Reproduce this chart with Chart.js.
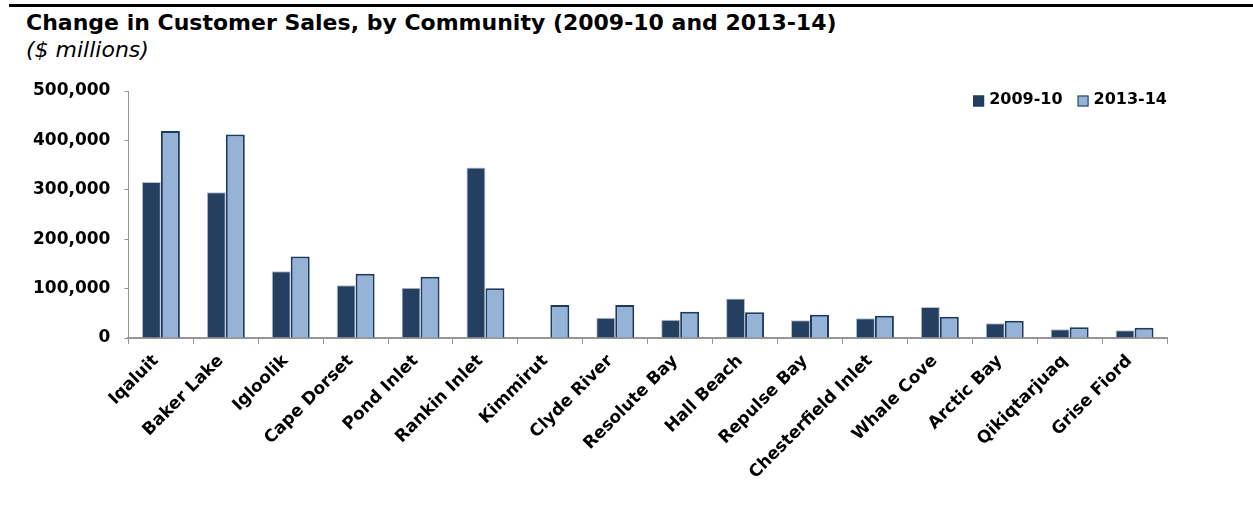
<!DOCTYPE html>
<html>
<head>
<meta charset="utf-8">
<script src="https://cdn.jsdelivr.net/npm/chart.js@4.4.1/dist/chart.umd.min.js"></script>
<style>
  body { margin: 0; background: #fff; }
  #wrap { position: relative; width: 1253px; height: 531px; }
  #rule { position: absolute; left: 9px; top: 4px; width: 1244px; height: 3px; background: #000; }
  .head { position: absolute; left: 26px; font-family: "DejaVu Sans"; font-size: 22px; line-height: 22px; color: #000; white-space: nowrap; }
  #title { top: 12px; font-weight: bold; }
  #subtitle { top: 39px; font-style: italic; }
  #chart { position: absolute; left: 0; top: 0; }
</style>
</head>
<body>
<div id="wrap">
  <div id="rule"></div>
  <div id="title" class="head">Change in Customer Sales, by Community (2009-10 and 2013-14)</div>
  <div id="subtitle" class="head">($ millions)</div>
  <canvas id="chart" width="1253" height="531"></canvas>
</div>
<script>
// Данные
const communities = ['Iqaluit', 'Baker Lake', 'Igloolik', 'Cape Dorset', 'Pond Inlet', 'Rankin Inlet', 'Kimmirut',
  'Clyde River', 'Resolute Bay', 'Hall Beach', 'Repulse Bay', 'Chesterfield Inlet', 'Whale Cove', 'Arctic Bay',
  'Qikiqtarjuaq', 'Grise Fiord'];
const sales0910 = [316000, 295000, 135000, 107000, 102000, 345000, 0, 41000, 37000, 80000, 36000, 40000, 63000, 30000, 18000, 16000];
const sales1314 = [419000, 412000, 165000, 130000, 124000, 101000, 67000, 67000, 53000, 52000, 47000, 45000, 43000, 35000, 22000, 21000];
const seriesNames = ['2009-10', '2013-14'];
const yTicks = [0, 100000, 200000, 300000, 400000, 500000];

const DARK = '#243F60';
const LIGHT = '#95B3D7';
const AXIS = '#969696';

// Легенда в правом верхнем углу внутри области графика
const cornerLegend = {
  id: 'cornerLegend',
  afterDraw(chart) {
    const ctx = chart.ctx;
    const area = chart.chartArea;
    const box = 11, gap = 5, itemGap = 15;
    ctx.save();
    ctx.font = 'bold 16px "DejaVu Sans"';
    ctx.textBaseline = 'middle';
    ctx.textAlign = 'left';
    const items = chart.data.datasets.map(ds => ({
      text: ds.label, fill: ds.backgroundColor, stroke: ds.legendBorder,
      w: box + gap + ctx.measureText(ds.label).width
    }));
    const total = items.reduce((s, it) => s + it.w, 0) + itemGap * (items.length - 1);
    let x = area.right - total;
    const y = area.top + 9;
    for (const it of items) {
      ctx.fillStyle = it.fill;
      ctx.fillRect(x, y - box / 2 + 1, box, box);
      ctx.strokeStyle = it.stroke;
      ctx.lineWidth = 1;
      ctx.strokeRect(x + 0.5, y - box / 2 + 1.5, box - 1, box - 1);
      ctx.fillStyle = '#000';
      ctx.fillText(it.text, x + box + gap, y);
      x += it.w + itemGap;
    }
    ctx.restore();
  }
};

new Chart(document.getElementById('chart'), {
  type: 'bar',
  data: {
    labels: communities,
    datasets: [
      {
        label: seriesNames[0], data: sales0910,
        backgroundColor: DARK, borderColor: '#B4C0D0', borderWidth: 1, legendBorder: '#1F3A5F',
        categoryPercentage: 0.585, barPercentage: 1
      },
      {
        label: seriesNames[1], data: sales1314,
        backgroundColor: LIGHT, borderColor: '#1F3A5F', borderWidth: 2, legendBorder: '#1F3A5F',
        categoryPercentage: 0.585, barPercentage: 1
      }
    ]
  },
  options: {
    responsive: false,
    animation: false,
    layout: { padding: { left: 19, right: 86, top: 91, bottom: 41 } },
    plugins: {
      legend: { display: false },
      title: { display: false },
      tooltip: { enabled: false }
    },
    scales: {
      x: {
        grid: { display: true, drawOnChartArea: false, drawTicks: true, tickLength: 6, color: AXIS, offset: true },
        border: { display: true, color: AXIS, width: 2 },
        ticks: {
          color: '#000', font: { family: 'DejaVu Sans', size: 17, weight: 'bold' },
          minRotation: 45, maxRotation: 45, autoSkip: false, padding: 7, labelOffset: -5
        }
      },
      y: {
        min: 0, max: 500000,
        afterBuildTicks(scale) { scale.ticks = yTicks.map(v => ({ value: v })); },
        grid: { display: true, drawOnChartArea: false, drawTicks: true, tickLength: 4, color: AXIS },
        border: { display: true, color: AXIS, width: 1 },
        ticks: {
          color: '#000', font: { family: 'DejaVu Sans', size: 17, weight: 'bold' }, padding: 14,
          callback: v => v.toLocaleString('en-US')
        }
      }
    }
  },
  plugins: [cornerLegend]
});
</script>
</body>
</html>
